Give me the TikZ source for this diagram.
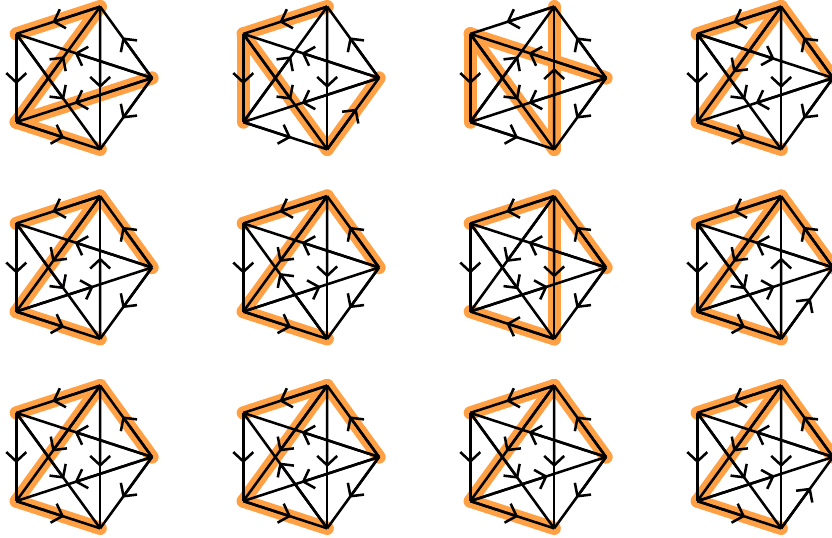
\documentclass[tikz,border=0pt]{standalone}
\usetikzlibrary{arrows.meta,calc}
\definecolor{treeorange}{RGB}{255,160,68}
\tikzset{
  treeedge/.style={draw=treeorange,line width=10pt,line cap=round,line join=round},
  arcedge/.style={draw=black,line width=1.9pt},
  arctip/.style={draw=black,line width=1.9pt,-{Straight Barb[length=7pt,width=15pt]}}
}
\newcommand\kpanel[5]{%
  \begin{scope}[shift={(#2,#3)}]
    \foreach \n/\ang in {A/0,B/72,C/144,D/216,E/288}
      \coordinate (#1\n) at (\ang:75);
    \foreach \u/\v in {#4} \draw[treeedge] (#1\u) -- (#1\v);
    \foreach \u/\v in {#5} {
      \draw[arcedge] (#1\u) -- (#1\v);
      \draw[arctip] (#1\u) -- ($(#1\u)!0.57!(#1\v)$);
    }
  \end{scope}}
\begin{document}
\begin{tikzpicture}[x=0.75pt,y=0.75pt]
\useasboundingbox (0,0) rectangle (832,538);
\clip (0,0) rectangle (832,538);
% row 1
\kpanel{p1}{77}{460}{B/C,B/D,A/D,D/E}{B/C,A/B,C/D,D/E,A/E,B/E,A/C,A/D,D/B,C/E}
\kpanel{p2}{304}{460}{B/C,C/D,C/E,E/A}{B/C,A/B,C/D,D/E,E/A,B/E,A/C,A/D,D/B,C/E}
\kpanel{p3}{531}{460}{C/D,C/E,A/C,E/B}{B/C,A/B,C/D,D/E,A/E,E/B,A/C,A/D,D/B,C/E}
\kpanel{p4}{758}{460}{B/C,B/D,A/B,D/E}{B/C,A/B,C/D,D/E,A/E,B/E,C/A,A/D,B/D,C/E}
% row 2
\kpanel{p5}{77}{270.5}{B/C,B/D,A/B,D/E}{B/C,A/B,C/D,D/E,A/E,E/B,A/C,D/A,B/D,C/E}
\kpanel{p6}{304}{270.5}{B/C,B/D,A/B,D/E}{B/C,A/B,C/D,D/E,A/E,B/E,A/C,D/A,B/D,E/C}
\kpanel{p7}{531}{270.5}{B/C,A/B,B/E,E/D}{B/C,A/B,C/D,E/D,A/E,B/E,A/C,D/A,B/D,C/E}
\kpanel{p8}{758}{270.5}{B/C,B/D,A/B,D/E}{B/C,A/B,C/D,D/E,E/A,E/B,A/C,D/A,B/D,C/E}
% row 3
\kpanel{p9}{77}{81}{B/C,B/D,A/B,D/E}{B/C,A/B,C/D,D/E,A/E,B/E,A/C,A/D,B/D,C/E}
\kpanel{p10}{304}{81}{B/C,B/D,A/B,D/E}{B/C,A/B,C/D,D/E,A/E,B/E,A/C,A/D,B/D,E/C}
\kpanel{p11}{531}{81}{B/C,B/D,A/B,D/E}{B/C,A/B,C/D,D/E,A/E,B/E,A/C,D/A,B/D,C/E}
\kpanel{p12}{758}{81}{B/C,B/D,A/B,D/E}{B/C,A/B,C/D,D/E,E/A,B/E,A/C,D/A,B/D,C/E}
\end{tikzpicture}
\end{document}
